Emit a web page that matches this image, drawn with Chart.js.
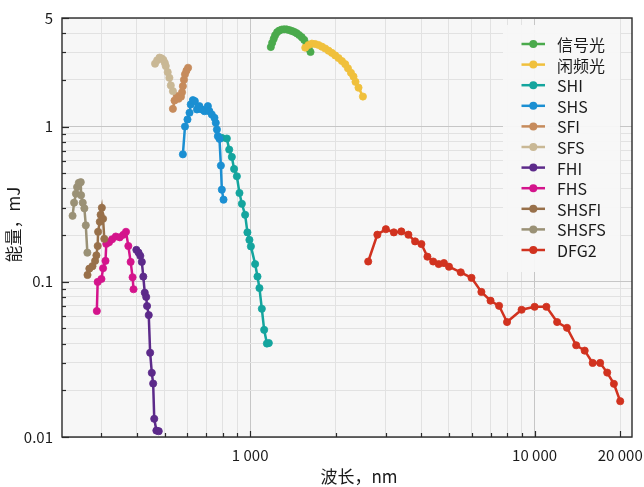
<!DOCTYPE html>
<html>
<head>
<meta charset="utf-8">
<script src="https://cdn.jsdelivr.net/npm/chart.js@4"></script>
<style>
  html, body { margin: 0; padding: 0; background: #ffffff; }
  canvas { display: block; }
</style>
</head>
<body>
<canvas id="chart" width="644" height="487" style="width:644px;height:487px"></canvas>
<script>
// Pulse energy (mJ) versus wavelength (nm) for each output stage
const signalX = [1182, 1195, 1210, 1224, 1244, 1265, 1291, 1317, 1344, 1372, 1400, 1428, 1457, 1487, 1518, 1549, 1580, 1606, 1630];
const signalY = [3.25, 3.46, 3.67, 3.87, 4.05, 4.15, 4.21, 4.23, 4.22, 4.18, 4.13, 4.07, 3.99, 3.88, 3.76, 3.61, 3.39, 3.19, 3.02];

const idlerX = [1562, 1604, 1648, 1693, 1739, 1787, 1836, 1886, 1938, 1991, 2045, 2102, 2159, 2207, 2261, 2308, 2346, 2404, 2491];
const idlerY = [3.22, 3.35, 3.42, 3.40, 3.35, 3.27, 3.18, 3.08, 2.98, 2.87, 2.76, 2.64, 2.52, 2.37, 2.22, 2.10, 1.94, 1.78, 1.56];

const shiX = [795, 828, 844, 862, 878, 898, 917, 935, 960, 978, 994, 1006, 1041, 1061, 1078, 1099, 1120, 1145, 1163];
const shiY = [0.845, 0.837, 0.71, 0.637, 0.533, 0.478, 0.373, 0.318, 0.27, 0.208, 0.186, 0.169, 0.130, 0.108, 0.091, 0.067, 0.049, 0.040, 0.0403];

const shsX = [580, 590, 602, 612, 618, 629, 639, 650, 663, 676, 691, 710, 719, 733, 749, 757, 764, 770, 780, 789, 795, 806];
const shsY = [0.662, 1.0, 1.11, 1.226, 1.387, 1.479, 1.457, 1.288, 1.353, 1.288, 1.255, 1.353, 1.255, 1.195, 1.138, 1.056, 0.956, 0.866, 0.833, 0.56, 0.392, 0.338];

const sfiX = [535, 542, 552, 560, 571, 576, 580, 585, 590, 597, 605];
const sfiY = [1.30, 1.47, 1.57, 1.51, 1.555, 1.66, 1.82, 2.0, 2.17, 2.29, 2.39];

const sfsX = [463, 471, 480, 488, 495, 501, 505, 513, 520, 526, 535];
const sfsY = [2.54, 2.67, 2.78, 2.75, 2.69, 2.57, 2.45, 2.24, 2.06, 1.84, 1.69];

const fhiX = [398, 405, 411, 416, 421, 426, 431, 434, 440, 445, 451, 456, 460, 468, 477];
const fhiY = [0.1605, 0.1542, 0.1468, 0.1342, 0.1079, 0.085, 0.0798, 0.0698, 0.061, 0.0349, 0.0259, 0.0221, 0.0131, 0.0110, 0.0109];

const fhsX = [289, 291, 300, 304, 310, 312, 319, 327, 337, 348, 358, 366, 373, 380, 386, 389];
const fhsY = [0.0648, 0.0997, 0.1042, 0.1222, 0.1363, 0.1754, 0.1795, 0.1877, 0.1956, 0.1933, 0.2006, 0.2098, 0.170, 0.1342, 0.1069, 0.0895];

const shsfiX = [268, 272, 279, 285, 288, 291, 292, 296, 298, 301, 304, 307];
const shsfiY = [0.1106, 0.1215, 0.126, 0.1363, 0.1479, 0.170, 0.21, 0.2433, 0.27, 0.2998, 0.2544, 0.189];

const shsfsX = [237.5, 240.4, 244, 246.3, 249.7, 253.8, 254.4, 257.9, 261.3, 264.3, 267.7];
const shsfsY = [0.266, 0.323, 0.369, 0.407, 0.433, 0.438, 0.361, 0.323, 0.297, 0.231, 0.154];

const dfg2X = [2600, 2800, 3000, 3200, 3400, 3600, 3800, 4000, 4200, 4400, 4600, 4800, 5000, 5500, 6000, 6500, 7000, 7500, 8000, 9000, 10000, 11000, 12000, 13000, 14000, 15000, 16000, 17000, 18000, 19000, 20000];
const dfg2Y = [0.135, 0.201, 0.218, 0.208, 0.211, 0.201, 0.182, 0.175, 0.145, 0.135, 0.130, 0.132, 0.125, 0.115, 0.106, 0.086, 0.0755, 0.070, 0.055, 0.066, 0.069, 0.069, 0.055, 0.0505, 0.039, 0.036, 0.030, 0.030, 0.026, 0.022, 0.017];

// Series names and colours, in legend order
const seriesLabels = ['信号光', '闲频光', 'SHI', 'SHS', 'SFI', 'SFS', 'FHI', 'FHS', 'SHSFI', 'SHSFS', 'DFG2'];
const seriesColors = ['#4aaa4c', '#f0c03c', '#14a59e', '#1b8fd2', '#c68b5c', '#c9b895', '#5c2a8a', '#d4148c', '#98704a', '#9a9176', '#d1321f'];
const seriesX = [signalX, idlerX, shiX, shsX, sfiX, sfsX, fhiX, fhsX, shsfiX, shsfsX, dfg2X];
const seriesY = [signalY, idlerY, shiY, shsY, sfiY, sfsY, fhiY, fhsY, shsfiY, shsfsY, dfg2Y];

// Axis grid / tick positions and labels
const xGridValues = [300, 400, 500, 600, 700, 800, 900, 1000, 2000, 3000, 4000, 5000, 6000, 7000, 8000, 9000, 10000, 20000];
const xLabelValues = [1000, 10000, 20000];
const xLabelTexts = ['1 000', '10 000', '20 000'];
const xMajorGrid = [1000, 10000];

const yGridValues = [0.01, 0.02, 0.03, 0.04, 0.05, 0.06, 0.07, 0.08, 0.09, 0.1, 0.2, 0.3, 0.4, 0.5, 0.6, 0.7, 0.8, 0.9, 1, 2, 3, 4, 5];
const yLabelValues = [0.01, 0.1, 1, 5];
const yLabelTexts = ['0.01', '0.1', '1', '5'];
const yMajorGrid = [0.01, 0.1, 1];

const xTitle = '波长，nm';
const yTitle = '能量，mJ';

const FONT = "'Noto Sans CJK SC', 'Noto Sans', sans-serif";
Chart.defaults.font.family = FONT;

const datasets = seriesLabels.map((label, i) => ({
  label,
  data: seriesX[i].map((x, j) => ({ x, y: seriesY[i][j] })),
  showLine: true,
  borderColor: seriesColors[i],
  backgroundColor: seriesColors[i],
  borderWidth: 2.5,
  pointRadius: 3.6,
  pointBorderWidth: 0.8,
  pointBackgroundColor: seriesColors[i],
  pointBorderColor: seriesColors[i],
  order: seriesLabels.length - i
}));

const plotBackground = {
  id: 'plotBackground',
  beforeDraw(chart) {
    const { ctx, chartArea: a } = chart;
    ctx.save();
    ctx.fillStyle = '#f7f7f7';
    ctx.fillRect(a.left, a.top, a.right - a.left, a.bottom - a.top);
    ctx.restore();
  }
};

// Frame around the plot plus inward-pointing tick marks
const frameTicks = {
  id: 'frameTicks',
  beforeDatasetsDraw(chart) {
    const { ctx, chartArea: a, scales } = chart;
    ctx.save();
    ctx.strokeStyle = '#2a2a2a';
    ctx.lineWidth = 1.2;
    yGridValues.forEach(v => {
      const y = Math.round(scales.y.getPixelForValue(v)) + 0.5;
      const len = yLabelValues.includes(v) ? 7 : 4;
      ctx.beginPath();
      ctx.moveTo(a.left, y);
      ctx.lineTo(a.left + len, y);
      ctx.stroke();
    });
    xGridValues.forEach(v => {
      const x = Math.round(scales.x.getPixelForValue(v)) + 0.5;
      const len = xLabelValues.includes(v) ? 6 : 4;
      ctx.beginPath();
      ctx.moveTo(x, a.bottom);
      ctx.lineTo(x, a.bottom - len);
      ctx.stroke();
    });
    ctx.lineWidth = 1.4;
    ctx.strokeRect(a.left, a.top, a.right - a.left, a.bottom - a.top);
    ctx.restore();
  }
};

// Legend panel inside the upper-right corner of the plot
const legendPanel = {
  id: 'legendPanel',
  afterDatasetsDraw(chart) {
    const { ctx, chartArea: a } = chart;
    ctx.save();
    ctx.fillStyle = 'rgba(247,247,247,0.95)';
    ctx.fillRect(a.right - 129, a.top + 7, 117, 247);
    ctx.font = '16px ' + FONT;
    ctx.textBaseline = 'middle';
    ctx.textAlign = 'left';
    chart.data.datasets.forEach((ds, i) => {
      const y = a.top + 26 + i * 20.6;
      ctx.strokeStyle = ds.borderColor;
      ctx.lineWidth = 2.5;
      ctx.beginPath();
      ctx.moveTo(a.right - 110.5, y);
      ctx.lineTo(a.right - 87, y);
      ctx.stroke();
      ctx.fillStyle = ds.borderColor;
      ctx.beginPath();
      ctx.arc(a.right - 98.7, y, 4, 0, Math.PI * 2);
      ctx.fill();
      ctx.fillStyle = '#1a1a1a';
      ctx.fillText(ds.label, a.right - 75, y + 1);
    });
    ctx.restore();
  }
};

const axisTitles = {
  id: 'axisTitles',
  afterDraw(chart) {
    const { ctx, chartArea: a } = chart;
    ctx.save();
    ctx.fillStyle = '#1a1a1a';
    ctx.font = '17px ' + FONT;
    ctx.textAlign = 'center';
    ctx.textBaseline = 'middle';
    ctx.fillText(xTitle, (a.left + a.right) / 2 + 12, a.bottom + 40);
    ctx.translate(14, (a.top + a.bottom) / 2 - 3);
    ctx.rotate(-Math.PI / 2);
    ctx.fillText(yTitle, 0, 0);
    ctx.restore();
  }
};

new Chart(document.getElementById('chart'), {
  type: 'scatter',
  data: { datasets },
  options: {
    responsive: false,
    animation: false,
    devicePixelRatio: 1,
    layout: { padding: { top: 18, right: 12, left: 0, bottom: 0 } },
    plugins: { legend: { display: false }, tooltip: { enabled: false } },
    scales: {
      x: {
        type: 'logarithmic',
        position: 'bottom',
        min: 218,
        max: 22000,
        afterBuildTicks: s => { s.ticks = xGridValues.map(v => ({ value: v })); },
        afterFit: s => { s.height = 50; s.paddingLeft = 0; s.paddingRight = 0; },
        border: { display: false },
        grid: {
          drawTicks: false,
          lineWidth: 1,
          color: c => (c.tick && xMajorGrid.includes(c.tick.value)) ? '#c6c6c6' : '#e2e2e2'
        },
        ticks: {
          autoSkip: false,
          maxRotation: 0,
          padding: 9,
          color: '#1a1a1a',
          font: { size: 15, family: FONT },
          callback: v => { const k = xLabelValues.indexOf(v); return k >= 0 ? xLabelTexts[k] : ''; }
        }
      },
      y: {
        type: 'logarithmic',
        position: 'left',
        min: 0.01,
        max: 5,
        afterBuildTicks: s => { s.ticks = yGridValues.map(v => ({ value: v })); },
        afterFit: s => { s.width = 62; s.paddingTop = 0; s.paddingBottom = 0; },
        border: { display: false },
        grid: {
          drawTicks: false,
          lineWidth: 1,
          color: c => (c.tick && yMajorGrid.includes(c.tick.value)) ? '#c6c6c6' : '#e2e2e2'
        },
        ticks: {
          autoSkip: false,
          padding: 9,
          color: '#1a1a1a',
          font: { size: 15, family: FONT },
          callback: v => { const k = yLabelValues.indexOf(v); return k >= 0 ? yLabelTexts[k] : ''; }
        }
      }
    }
  },
  plugins: [plotBackground, frameTicks, legendPanel, axisTitles]
});
</script>
</body>
</html>
